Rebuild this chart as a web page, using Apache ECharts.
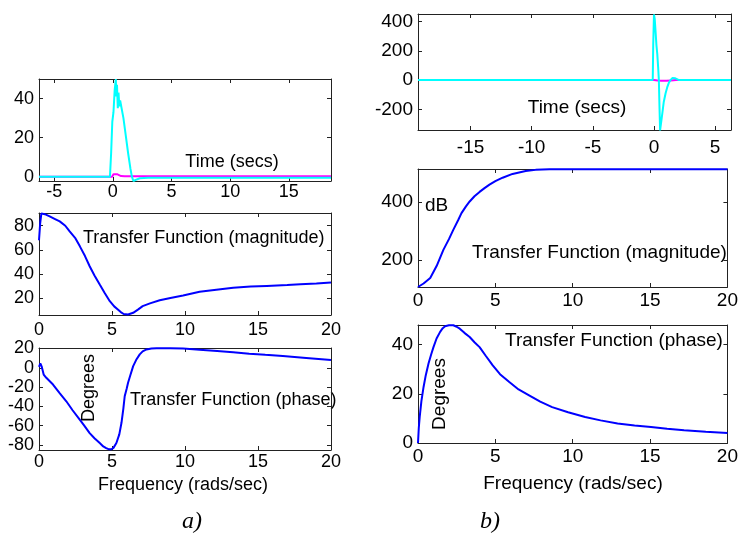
<!DOCTYPE html>
<html>
<head>
<meta charset="utf-8">
<script src="https://cdn.jsdelivr.net/npm/echarts@6.0.0/dist/echarts.min.js"></script>
<style>html,body{margin:0;padding:0;background:#fff}#c{width:741px;height:555px}</style>
</head>
<body>
<div id="c"></div>
<script>
// ---- data: panel a) ----
const tA_cyan = [-6.3, -0.25, -0.15, -0.05, 0.05, 0.15, 0.25, 0.3, 0.35, 0.42, 0.48, 0.55, 0.62, 0.72, 0.9, 1.1, 1.3, 1.5, 1.62, 1.75, 1.95, 2.3, 3.0, 18.6];
const vA_cyan = [0, 0, 12, 28, 33, 44, 50, 41, 47, 35, 43, 36, 39, 38, 30, 21, 12, 4, 0, -2.2, -1.6, -0.8, -0.5, -0.5];
const tA_mag = [-6.3, -0.05, 0.05, 0.35, 0.5, 0.7, 1.0, 18.6];
const vA_mag = [0, 0, 1.3, 1.3, 0.6, 0.3, 0.2, 0.2];
const fA_magn = [0, 0.08, 0.16, 0.4, 0.73, 1.1, 1.42, 1.8, 2.1, 2.5, 2.8, 3.15, 3.47, 3.8, 4.16, 4.5, 4.85, 5.15, 5.4, 5.6, 5.8, 6.1, 6.45, 6.8, 7.1, 7.6, 8.27, 9, 9.87, 11, 12, 13.3, 14.5, 15.6, 17, 17.9, 19, 20];
const vA_magn = [68, 82, 90, 89.5, 87.7, 85.5, 83.6, 80, 75.3, 69.5, 63, 55, 46.6, 39, 31.5, 24.5, 17.8, 13.5, 11, 8.8, 7.2, 6.8, 8.2, 11, 13.7, 16, 18.6, 20.5, 22.5, 25.5, 27, 28.8, 29.8, 30.4, 31.2, 31.8, 32.4, 33.2];
const fA_phase = [0, 0.09, 0.18, 0.32, 0.5, 0.96, 1.4, 1.87, 2.3, 2.79, 3.1, 3.47, 3.8, 4.16, 4.4, 4.6, 4.8, 4.96, 5.1, 5.3, 5.5, 5.65, 5.78, 5.87, 6.0, 6.1, 6.25, 6.45, 6.65, 6.9, 7.1, 7.36, 7.7, 8.05, 9, 9.87, 11, 12.2, 13.3, 14.4, 15.5, 16.7, 18.3, 20];
const vA_phase = [1, 4.5, 1.5, -7, -10.4, -17.4, -26, -34.7, -44, -53.8, -60, -67.7, -73, -78, -81.5, -83.3, -84.5, -84.4, -83, -78, -69, -57, -42, -29.5, -22, -15.6, -8, 1.7, 8, 13.9, 17, 19, 20, 20.2, 20.2, 20, 18.8, 17.4, 16, 14.6, 13.4, 12.2, 10.2, 8];
// ---- data: panel b) ----
const tB_cyan = [-19.3, -0.1, -0.06, 0.0, 0.06, 0.14, 0.2, 0.27, 0.34, 0.4, 0.45, 0.5, 0.56, 0.68, 0.8, 0.95, 1.08, 1.2, 1.35, 1.5, 1.62, 1.75, 1.9, 2.05, 6.3];
const vB_cyan = [0, 0, 250, 450, 420, 320, 240, 180, 90, 0, -180, -345, -345, -230, -150, -90, -50, -22, 0, 14, 18, 12, 4, 0, 0];
const tB_mag = [-19.3, 0, 0.3, 0.6, 1.0, 1.4, 1.8, 6.3];
const vB_mag = [0, 0, -3, -5, -4, -2, 0, 0];
const fB_magn = [0, 0.36, 0.79, 1.21, 1.64, 2.0, 2.28, 2.6, 2.81, 3.1, 3.34, 3.65, 3.98, 4.3, 4.62, 5.0, 5.47, 6.11, 6.96, 7.6, 8.5, 10, 15, 20];
const vB_magn = [107, 119, 138, 180, 235, 272, 304, 338, 362, 385, 402, 420, 435, 448, 460, 472, 484, 497, 507, 511, 513, 513.5, 513.5, 513.5];
const fB_phase = [0, 0.05, 0.11, 0.22, 0.36, 0.5, 0.68, 0.85, 1.0, 1.2, 1.43, 1.6, 1.75, 2.0, 2.28, 2.5, 2.7, 3.0, 3.34, 3.65, 3.98, 4.4, 4.83, 5.3, 5.9, 6.5, 7.18, 7.9, 8.67, 9.7, 10.8, 11.8, 12.9, 14, 15.06, 16.1, 17.2, 18.6, 20];
const vB_phase = [0, 6, 10.6, 17, 22.8, 27.5, 32.3, 36, 39, 42.5, 45.2, 46.7, 47.5, 47.9, 47.9, 47.3, 46.5, 44.8, 43.1, 41, 39, 35.3, 31.6, 28, 24.8, 21.8, 19.4, 16.8, 14.6, 12.5, 10.6, 9.2, 7.9, 7.1, 6.5, 5.8, 5.2, 4.6, 4.1];
// ---- tick labels ----
const xTicksTimeA = [-5, 0, 5, 10, 15];
const xTicksTimeB = [-15, -10, -5, 0, 5];
const xTicksFreq = [0, 5, 10, 15, 20];
const yTicksTimeA = [0, 20, 40];
const yTicksMagA = [20, 40, 60, 80];
const yTicksPhaseA = [-80, -60, -40, -20, 0, 20];
const yTicksTimeB = [-200, 0, 200, 400];
const yTicksMagB = [200, 400];
const yTicksPhaseB = [0, 20, 40];

const zip = (a, b) => a.map((v, i) => [v, b[i]]);
const FONT = 'Liberation Sans, Arial, sans-serif';

const grids = [
  {left: 39, top: 79, width: 292, height: 102},
  {left: 39, top: 213, width: 292, height: 102},
  {left: 39, top: 348, width: 292, height: 102},
  {left: 418, top: 14, width: 313, height: 116},
  {left: 418, top: 169, width: 313, height: 118},
  {left: 418, top: 325, width: 313, height: 118}
];
const panels = [
  {xmin: -6.3, xmax: 18.6, xt: xTicksTimeA, ymin: -2.2, ymax: 50, yt: yTicksTimeA, fs: 18, xm: 2},
  {xmin: 0, xmax: 20, xt: xTicksFreq, ymin: 6.4, ymax: 90.5, yt: yTicksMagA, fs: 18, xm: 6},
  {xmin: 0, xmax: 20, xt: xTicksFreq, ymin: -85.2, ymax: 20.5, yt: yTicksPhaseA, fs: 18, xm: 3},
  {xmin: -19.3, xmax: 6.3, xt: xTicksTimeB, ymin: -342, ymax: 453, yt: yTicksTimeB, fs: 19, xm: 8},
  {xmin: 0, xmax: 20, xt: xTicksFreq, ymin: 107, ymax: 514, yt: yTicksMagB, fs: 19, xm: 4},
  {xmin: 0, xmax: 20, xt: xTicksFreq, ymin: 0, ymax: 48, yt: yTicksPhaseB, fs: 19, xm: 4}
];
const line = {show: true, onZero: false, lineStyle: {color: '#222', width: 1}};
const xAxis = [], yAxis = [];
const tick = vals => ({show: true, inside: true, length: 4, customValues: vals, lineStyle: {color: '#222'}});
panels.forEach((p, i) => {
  xAxis.push({type: 'value', gridIndex: i, position: 'bottom', min: p.xmin, max: p.xmax,
    axisLine: line, axisTick: tick(p.xt), splitLine: {show: false},
    axisLabel: {customValues: p.xt, color: '#000', fontFamily: FONT, fontSize: p.fs, margin: p.xm}});
  yAxis.push({type: 'value', gridIndex: i, position: 'left', min: p.ymin, max: p.ymax,
    axisLine: line, axisTick: tick(p.yt), splitLine: {show: false},
    axisLabel: {customValues: p.yt, color: '#000', fontFamily: FONT, fontSize: p.fs, margin: 5}});
});
panels.forEach((p, i) => {
  xAxis.push({type: 'value', gridIndex: i, position: 'top', min: p.xmin, max: p.xmax,
    axisLine: line, axisTick: tick(p.xt), splitLine: {show: false}, axisLabel: {show: false}});
  yAxis.push({type: 'value', gridIndex: i, position: 'right', min: p.ymin, max: p.ymax,
    axisLine: line, axisTick: tick(p.yt), splitLine: {show: false}, axisLabel: {show: false}});
});

const BLUE = '#0000ff', CYAN = '#00ffff', MAG = '#ff00ff';
const mk = (gi, data, color) => ({type: 'line', xAxisIndex: gi, yAxisIndex: gi, data: data,
  showSymbol: false, symbol: 'none', silent: true, animation: false, clip: true,
  lineStyle: {color: color, width: 2}});
const series = [
  mk(0, zip(tA_mag, vA_mag), MAG),
  mk(0, zip(tA_cyan, vA_cyan), CYAN),
  mk(1, zip(fA_magn, vA_magn), BLUE),
  mk(2, zip(fA_phase, vA_phase), BLUE),
  mk(3, zip(tB_mag, vB_mag), MAG),
  mk(3, zip(tB_cyan, vB_cyan), CYAN),
  mk(4, zip(fB_magn, vB_magn), BLUE),
  mk(5, zip(fB_phase, vB_phase), BLUE)
];

const txt = (text, x, y, size, align, extra) => Object.assign({type: 'text', x: x, y: y, silent: true,
  style: {text: text, fill: '#000', font: size + 'px ' + FONT, textAlign: align || 'left', textVerticalAlign: 'middle'}}, extra || {});
const graphic = [
  txt('Time (secs)', 232, 162, 18, 'center'),
  txt('Transfer Function (magnitude)', 83, 238, 18),
  txt('Transfer Function (phase)', 130, 400, 18),
  txt('Degrees', 89, 388, 18, 'center', {rotation: Math.PI / 2}),
  txt('Frequency (rads/sec)', 183, 485, 18, 'center'),
  txt('Time (secs)', 577, 108, 19, 'center'),
  txt('dB', 425, 206, 19),
  txt('Transfer Function (magnitude)', 472, 253, 19),
  txt('Transfer Function (phase)', 505, 341, 19),
  txt('Degrees', 440, 394, 19, 'center', {rotation: Math.PI / 2}),
  txt('Frequency (rads/sec)', 573, 484, 19, 'center'),
  {type: 'text', x: 192, y: 522, silent: true, style: {text: 'a)', fill: '#000', font: 'italic 24px Liberation Serif, Times New Roman, serif', textAlign: 'center', textVerticalAlign: 'middle'}},
  {type: 'text', x: 490, y: 522, silent: true, style: {text: 'b)', fill: '#000', font: 'italic 24px Liberation Serif, Times New Roman, serif', textAlign: 'center', textVerticalAlign: 'middle'}}
];

const chart = echarts.init(document.getElementById('c'), null, {renderer: 'canvas'});
chart.setOption({animation: false, backgroundColor: '#fff', grid: grids, xAxis: xAxis, yAxis: yAxis, series: series, graphic: graphic});
</script>
</body>
</html>
